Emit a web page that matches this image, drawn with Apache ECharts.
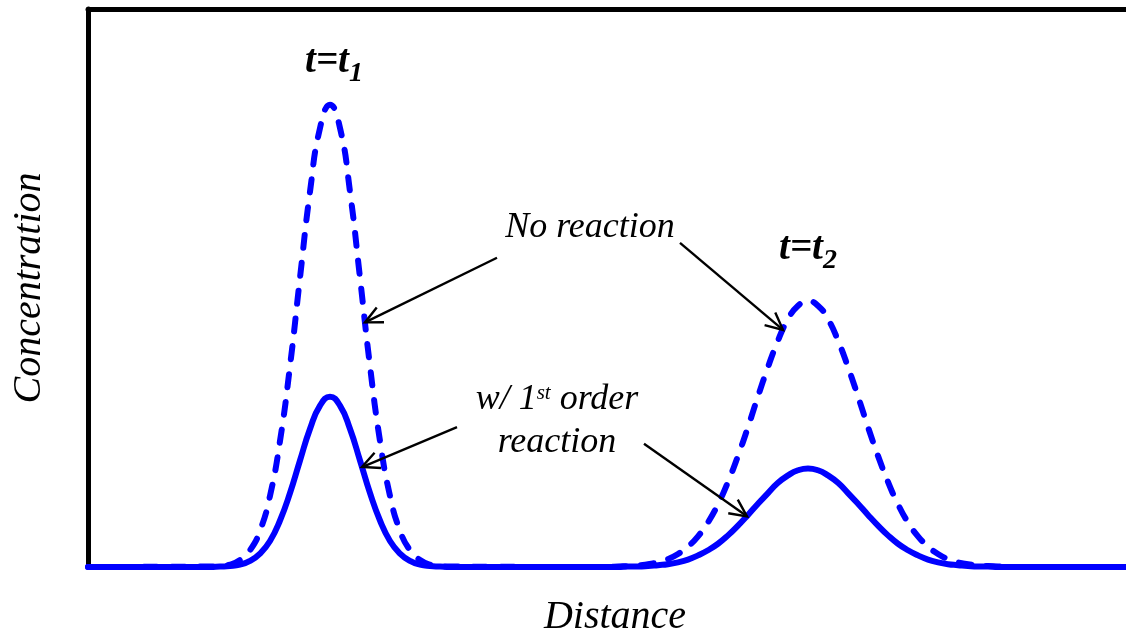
<!DOCTYPE html>
<html>
<head>
<meta charset="utf-8">
<script src="https://cdn.jsdelivr.net/npm/echarts@6/dist/echarts.min.js"></script>
<style>
  html, body { margin: 0; padding: 0; background: #ffffff; }
  #chart { width: 1126px; height: 634px; }
</style>
</head>
<body>
<div id="chart"></div>
<script>
// Distance samples (arbitrary units) around the two pulses
const distance = [
  0,
  1.22, 1.32, 1.42, 1.52, 1.62, 1.72, 1.82, 1.92, 2.02, 2.12, 2.22, 2.32, 2.42,
  2.52, 2.62, 2.72, 2.82, 2.92, 3.02, 3.12, 3.22, 3.32, 3.42, 3.52, 3.62,
  5.2, 5.3, 5.4, 5.5, 5.6, 5.7, 5.8, 5.9, 6.0, 6.1, 6.2, 6.3, 6.4, 6.5, 6.6, 6.7,
  6.8, 6.9, 7.0, 7.1, 7.2, 7.3, 7.4, 7.5, 7.6, 7.7, 7.8, 7.9, 8.0, 8.1, 8.2, 8.3,
  8.4, 8.5, 8.6, 8.7, 8.8, 8.9, 9.0, 9.1, 9.2,
  10.38
];

// Concentration without reaction (dashed)
const noReaction = [
  0,
  0.001, 0.002, 0.005, 0.015, 0.036, 0.078, 0.153, 0.271, 0.432, 0.622, 0.807, 0.944, 0.994,
  0.944, 0.807, 0.622, 0.432, 0.271, 0.153, 0.078, 0.036, 0.015, 0.005, 0.002, 0.001,
  0.000, 0.001, 0.002, 0.003, 0.006, 0.010, 0.017, 0.028, 0.044, 0.066, 0.096, 0.135,
  0.183, 0.239, 0.301, 0.367, 0.430, 0.487, 0.533, 0.562, 0.572, 0.562, 0.533, 0.487,
  0.430, 0.367, 0.301, 0.239, 0.183, 0.135, 0.096, 0.066, 0.044, 0.028, 0.017, 0.010,
  0.006, 0.003, 0.002, 0.001, 0.000,
  0
];

// Concentration with a first-order reaction (solid)
const firstOrder = [
  0,
  0.000, 0.001, 0.002, 0.005, 0.013, 0.029, 0.056, 0.100, 0.159, 0.229, 0.297, 0.347, 0.366,
  0.347, 0.297, 0.229, 0.159, 0.100, 0.056, 0.029, 0.013, 0.005, 0.002, 0.001, 0.000,
  0.000, 0.000, 0.001, 0.001, 0.002, 0.004, 0.006, 0.010, 0.016, 0.025, 0.036, 0.050,
  0.068, 0.089, 0.112, 0.136, 0.159, 0.181, 0.197, 0.208, 0.212, 0.208, 0.197, 0.181,
  0.159, 0.136, 0.112, 0.089, 0.068, 0.050, 0.036, 0.025, 0.016, 0.010, 0.006, 0.004,
  0.002, 0.001, 0.001, 0.000, 0.000,
  0
];

// Annotation arrows: text side -> point on the curve (data coordinates)
const arrows = [
  { from: [4.09, 0.665], to: [2.77, 0.526] },
  { from: [5.92, 0.697], to: [6.95, 0.510] },
  { from: [3.69, 0.301], to: [2.74, 0.215] },
  { from: [5.56, 0.265], to: [6.59, 0.109] }
];

// Annotation labels: centre x and baseline y in data coordinates
const labels = [
  { at: [5.02, 0.703], parts: [{ t: 'No reaction' }] },
  { at: [4.69, 0.3333], parts: [{ t: 'w/ 1' }, { t: 'st', size: 21, dy: -11 }, { t: ' order' }] },
  { at: [4.69, 0.2409], parts: [{ t: 'reaction' }] },
  { at: [2.46, 1.058], parts: [{ t: 't=t', bold: true, size: 39 }, { t: '1', bold: true, size: 28, dy: 8 }] },
  { at: [7.20, 0.656], parts: [{ t: 't=t', bold: true, size: 39 }, { t: '2', bold: true, size: 28, dy: 8 }] }
];

const SERIF = "'Liberation Serif', 'Times New Roman', 'DejaVu Serif', serif";
const BLUE = '#0000ff';

const pairs = (ys) => distance.map((x, i) => [x, ys[i]]);

const chart = echarts.init(document.getElementById('chart'), null, { renderer: 'canvas' });

chart.setOption({
  animation: false,
  backgroundColor: '#ffffff',
  grid: { left: 88, right: 0, top: 9, bottom: 67, containLabel: false, outerBoundsMode: 'none' },
  xAxis: [
    {
      type: 'value', min: 0, max: 10.38,
      name: 'Distance', nameLocation: 'middle', nameGap: 30,
      nameTextStyle: { fontFamily: SERIF, fontStyle: 'italic', fontSize: 40, color: '#000', padding: [0, 0, 0, 16] },
      axisLine: { show: false }, axisTick: { show: false }, axisLabel: { show: false }, splitLine: { show: false }
    },
    {
      type: 'value', min: 0, max: 10.38, position: 'top',
      axisLine: { show: true, onZero: false, lineStyle: { color: '#000', width: 5 } },
      axisTick: { show: false }, axisLabel: { show: false }, splitLine: { show: false }
    }
  ],
  yAxis: {
    type: 'value', min: 0, max: 1.2,
    name: 'Concentration', nameLocation: 'middle', nameGap: 39,
    nameTextStyle: { fontFamily: SERIF, fontStyle: 'italic', fontSize: 40, color: '#000' },
    axisLine: { show: true, onZero: false, lineStyle: { color: '#000', width: 5 } },
    axisTick: { show: false }, axisLabel: { show: false }, splitLine: { show: false }
  },
  series: [
    {
      name: 'w/ 1st order reaction', type: 'line', data: pairs(firstOrder),
      showSymbol: false, smooth: 0.5, z: 3,
      lineStyle: { color: BLUE, width: 6, cap: 'round', join: 'round' }
    },
    {
      name: 'No reaction', type: 'line', data: pairs(noReaction),
      showSymbol: false, smooth: 0.5, z: 4,
      lineStyle: { color: BLUE, width: 6, type: [13, 15], cap: 'round', join: 'round' }
    }
  ]
});

// Annotations (arrows and labels), placed through the chart's coordinate system
const toPx = (p) => chart.convertToPixel({ seriesIndex: 0 }, p);
const measureCtx = document.createElement('canvas').getContext('2d');
const fontOf = (p) => `italic ${p.bold ? 'bold ' : ''}${p.size || 36}px ${SERIF}`;

const elements = [];

arrows.forEach((a) => {
  const [x1, y1] = toPx(a.from);
  const [x2, y2] = toPx(a.to);
  const ang = Math.atan2(y1 - y2, x1 - x2);
  const L = 19, spread = 0.45;
  elements.push({
    type: 'line', z: 10, silent: true,
    shape: { x1, y1, x2, y2 },
    style: { stroke: '#000', lineWidth: 2.4 }
  });
  elements.push({
    type: 'polyline', z: 10, silent: true,
    shape: { points: [
      [x2 + L * Math.cos(ang + spread), y2 + L * Math.sin(ang + spread)],
      [x2, y2],
      [x2 + L * Math.cos(ang - spread), y2 + L * Math.sin(ang - spread)]
    ] },
    style: { stroke: '#000', fill: null, lineWidth: 2.4 }
  });
});

labels.forEach((lab) => {
  const [cx, base] = toPx(lab.at);
  const widths = lab.parts.map((p) => { measureCtx.font = fontOf(p); return measureCtx.measureText(p.t).width; });
  const total = widths.reduce((s, w) => s + w, 0);
  let cursor = cx - total / 2;
  lab.parts.forEach((p, i) => {
    const size = p.size || 36;
    elements.push({
      type: 'text', z: 11, silent: true,
      x: cursor, y: base + (p.dy || 0) - 0.3375 * size,
      style: {
        text: p.t, fill: '#000', textAlign: 'left', textVerticalAlign: 'middle',
        fontFamily: SERIF, fontStyle: 'italic', fontWeight: p.bold ? 'bold' : 'normal', fontSize: size
      }
    });
    cursor += widths[i];
  });
});

chart.setOption({ graphic: { elements } });
</script>
</body>
</html>
